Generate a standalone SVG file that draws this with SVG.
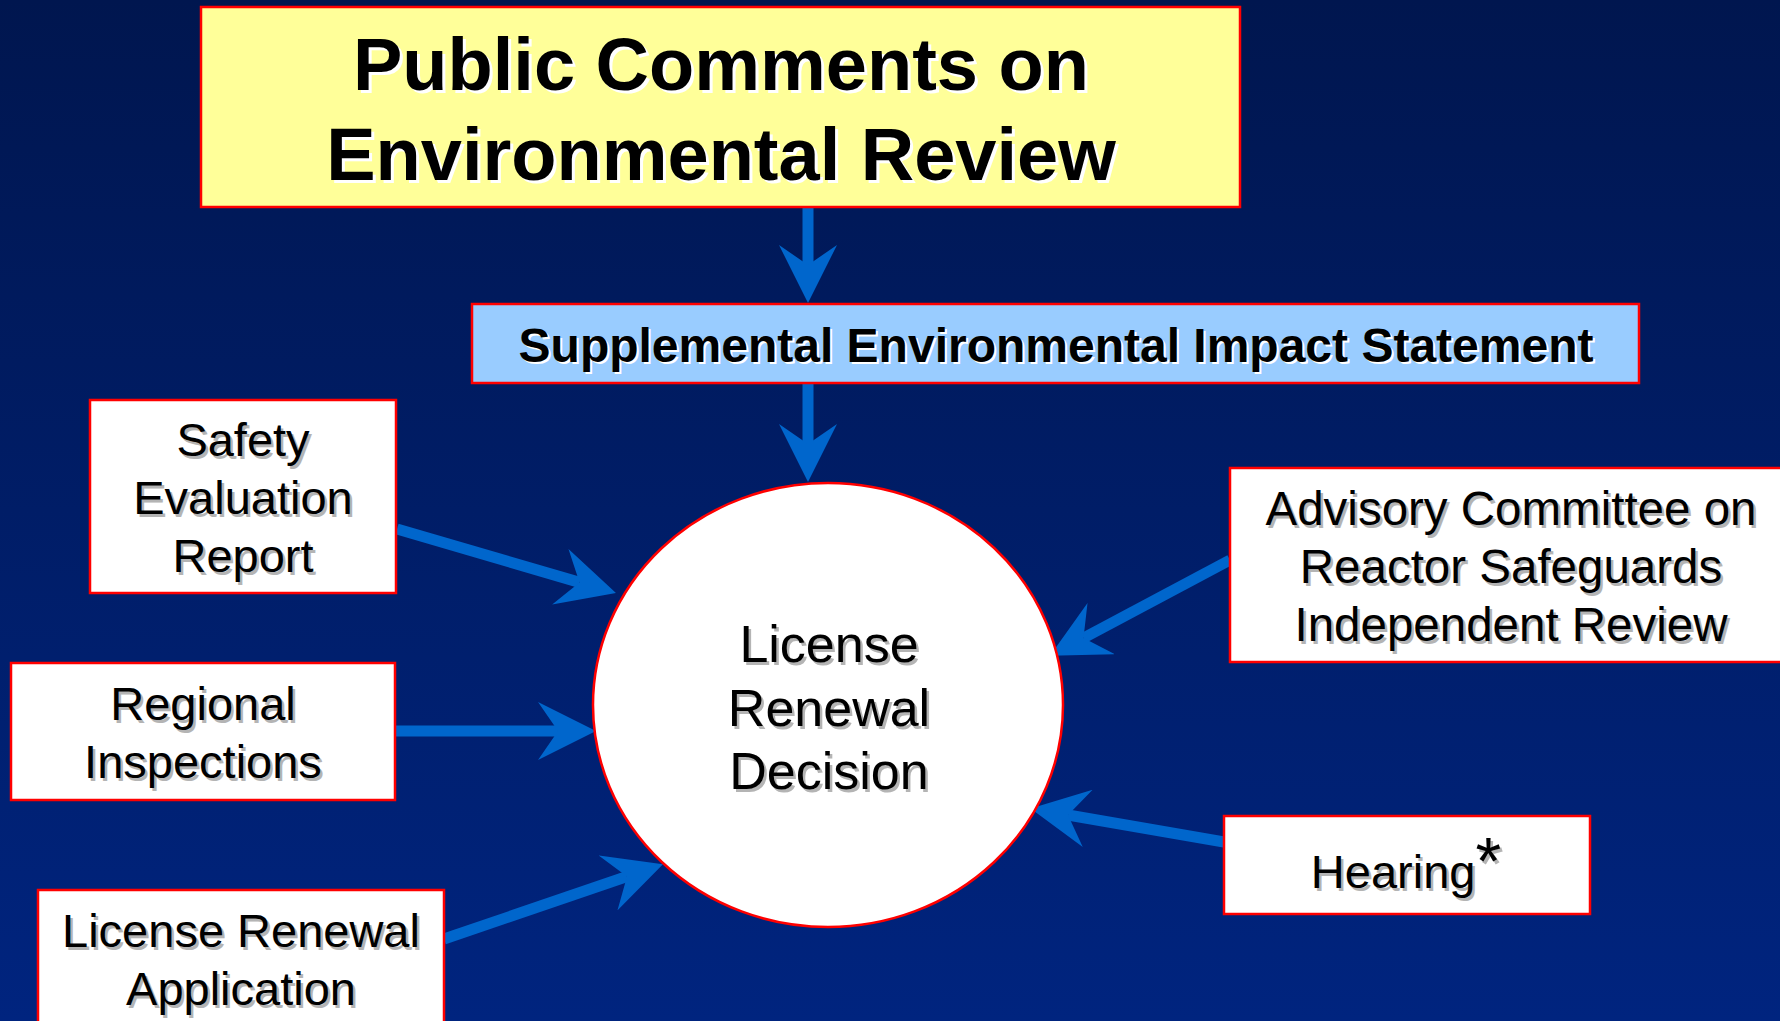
<svg xmlns="http://www.w3.org/2000/svg" width="1780" height="1021" viewBox="0 0 1780 1021">
<defs>
<linearGradient id="bg" x1="0" y1="0" x2="0" y2="1">
<stop offset="0" stop-color="#00164f"/>
<stop offset="1" stop-color="#00247f"/>
</linearGradient>
<marker id="ah" markerUnits="userSpaceOnUse" viewBox="0 0 58 58" markerWidth="58" markerHeight="58" refX="20" refY="29" orient="auto">
<path d="M0,0 L58,29 L0,58 L20,29 Z" fill="#0066cc"/>
</marker>
<style>
.conn{stroke:#0066cc;stroke-width:11;fill:none}
.box{stroke:#ff0000;stroke-width:2.5}
.t{font-family:"Liberation Sans",Arial,sans-serif;text-anchor:middle}
.bold{font-weight:bold}
.sh{fill:#b4b4b4}
.shw{fill:#ffffff}
.tx{fill:#000000}
</style>
</defs>
<rect x="0" y="0" width="1780" height="1021" fill="url(#bg)"/>

<g id="connectors">
<line class="conn" x1="808" y1="207" x2="808" y2="265" marker-end="url(#ah)"/>
<line class="conn" x1="808" y1="383" x2="808" y2="444" marker-end="url(#ah)"/>
<line class="conn" x1="397" y1="529" x2="579.5" y2="582.4" marker-end="url(#ah)"/>
<line class="conn" x1="395" y1="731" x2="558" y2="731" marker-end="url(#ah)"/>
<line class="conn" x1="444" y1="939" x2="627" y2="876.5" marker-end="url(#ah)"/>
<line class="conn" x1="1230" y1="560" x2="1083.5" y2="638" marker-end="url(#ah)"/>
<line class="conn" x1="1224" y1="842" x2="1068" y2="815" marker-end="url(#ah)"/>
</g>

<g id="public-comments">
<rect class="box" x="201" y="7" width="1039" height="200" fill="#ffff99"/>
<g class="t bold" font-size="74">
<g class="shw" transform="translate(3,3)"><text x="721" y="90">Public Comments on</text><text x="721" y="180">Environmental Review</text></g>
<g class="tx"><text x="721" y="90">Public Comments on</text><text x="721" y="180">Environmental Review</text></g>
</g>
</g>

<g id="seis">
<rect class="box" x="472" y="304" width="1167" height="79" fill="#99ccff"/>
<g class="t bold" font-size="48">
<text class="shw" x="1058" y="364">Supplemental Environmental Impact Statement</text>
<text class="tx" x="1056" y="362">Supplemental Environmental Impact Statement</text>
</g>
</g>

<g id="decision">
<ellipse cx="828" cy="705" rx="235" ry="222" fill="#ffffff" stroke="#ff0000" stroke-width="2.5"/>
<g class="t" font-size="52">
<g class="sh" transform="translate(2.5,2.5)"><text x="829" y="662">License</text><text x="829" y="726">Renewal</text><text x="829" y="789">Decision</text></g>
<g class="tx"><text x="829" y="662">License</text><text x="829" y="726">Renewal</text><text x="829" y="789">Decision</text></g>
</g>
</g>

<g id="safety">
<rect class="box" x="90" y="400" width="306" height="193" fill="#ffffff"/>
<g class="t" font-size="47">
<g class="sh" transform="translate(2.5,2.5)"><text x="243" y="456">Safety</text><text x="243" y="514">Evaluation</text><text x="243" y="572">Report</text></g>
<g class="tx"><text x="243" y="456">Safety</text><text x="243" y="514">Evaluation</text><text x="243" y="572">Report</text></g>
</g>
</g>

<g id="regional">
<rect class="box" x="11" y="663" width="384" height="137" fill="#ffffff"/>
<g class="t" font-size="47">
<g class="sh" transform="translate(2.5,2.5)"><text x="203" y="720">Regional</text><text x="203" y="778">Inspections</text></g>
<g class="tx"><text x="203" y="720">Regional</text><text x="203" y="778">Inspections</text></g>
</g>
</g>

<g id="application">
<rect class="box" x="38" y="890" width="406" height="150" fill="#ffffff"/>
<g class="t" font-size="47">
<g class="sh" transform="translate(2.5,2.5)"><text x="241" y="947">License Renewal</text><text x="241" y="1005">Application</text></g>
<g class="tx"><text x="241" y="947">License Renewal</text><text x="241" y="1005">Application</text></g>
</g>
</g>

<g id="acrs">
<rect class="box" x="1230" y="468" width="570" height="194" fill="#ffffff"/>
<g class="t" font-size="47.5">
<g class="sh" transform="translate(2.5,2.5)"><text x="1511" y="525">Advisory Committee on</text><text x="1511" y="583">Reactor Safeguards</text><text x="1511" y="641">Independent Review</text></g>
<g class="tx"><text x="1511" y="525">Advisory Committee on</text><text x="1511" y="583">Reactor Safeguards</text><text x="1511" y="641">Independent Review</text></g>
</g>
</g>

<g id="hearing">
<rect class="box" x="1224" y="816" width="366" height="98" fill="#ffffff"/>
<g class="t" font-size="47">
<g class="sh" transform="translate(2.5,2.5)"><text x="1406" y="888">Hearing<tspan font-size="66" dy="-4">*</tspan></text></g>
<g class="tx"><text x="1406" y="888">Hearing<tspan font-size="66" dy="-4">*</tspan></text></g>
</g>
</g>
</svg>
